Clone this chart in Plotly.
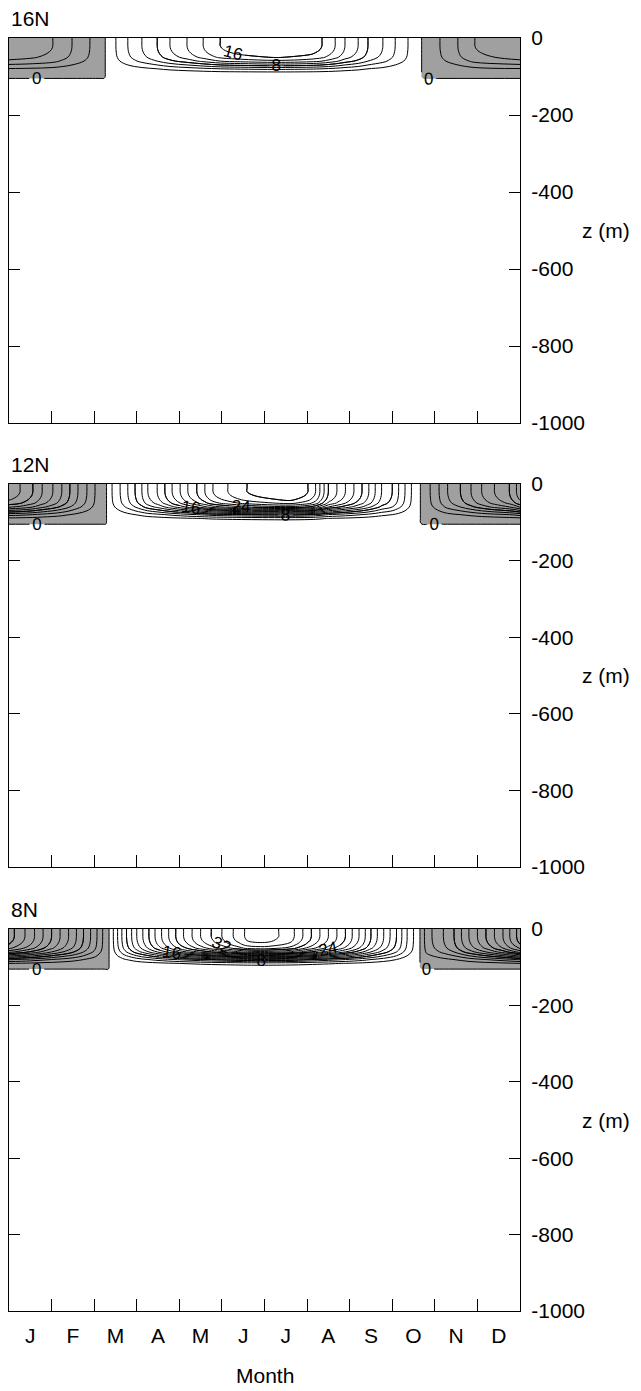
import plotly.graph_objects as go
import numpy as np

# the page adds an 8 px body margin, so the figure is laid out 8 px smaller
OFF = 8
W, H = 641 - OFF, 1391 - OFF

panel_titles = ["16N", "12N", "8N"]
month_labels = ["J", "F", "M", "A", "M", "J", "J", "A", "S", "O", "N", "D"]
month_centers = [0.5 + i for i in range(12)]
month_bounds = [1, 2, 3, 4, 5, 6, 7, 8, 9, 10, 11]
depth_ticks = [0, -200, -400, -600, -800, -1000]
depth_tick_text = ["0", "-200", "-400", "-600", "-800", "-1000"]

# vertical structure of the field (depth in m, relative amplitude)
depth_m = [0, -10, -20, -30, -40, -50, -60, -70, -80, -90, -100, -105, -110, -1000]
profile = [1, 1, 1, 0.99, 0.96, 0.9, 0.75, 0.5, 0.25, 0.08, 0.02, 0, 0, 0]

# surface amplitude vs time (months) for each latitude
t_16n = [0, 0.49, 1.03, 1.48, 1.90, 2.14, 2.23, 2.26, 2.36, 2.51, 2.79, 3.12, 3.48, 3.78,
         4.18, 4.56, 4.96, 5.43, 6.29, 7.07, 7.35, 7.66, 7.89, 8.20, 8.43, 8.78, 9.07,
         9.37, 9.60, 9.69, 9.72, 10.12, 10.54, 10.94, 12]
a_16n = [-7.5, -7, -6, -4, -2, -1, -0.5, 0, 0, 2, 4, 6, 8, 10,
         12, 14, 16, 17, 18, 17, 16, 14, 12, 10, 8, 6, 4,
         2, 0.3, 0, -0.5, -2, -4, -6, -7.5]

t_12n = [0, 0.26, 0.56, 0.78, 1.03, 1.24, 1.43, 1.62, 1.83, 2.02, 2.20, 2.27, 2.29,
         2.38, 2.42, 2.61, 2.79, 2.96, 3.12, 3.26, 3.48, 3.66, 3.83, 4.02, 4.20, 4.41,
         4.60, 4.79, 5.14, 5.59, 6.60, 7.02, 7.20, 7.35, 7.50, 7.70, 7.90, 8.10, 8.29,
         8.45, 8.60, 8.75, 9.00, 9.15, 9.30, 9.45, 9.58, 9.66, 9.70, 9.89, 10.10, 10.30,
         10.60, 10.85, 11.10, 11.40, 11.75, 12]
a_12n = [-19, -18, -16, -14, -12, -10, -8, -6, -4, -2, -1, -0.5, 0,
         0, 2, 4, 6, 8, 10, 12, 14, 16, 18, 20, 22, 24,
         26, 28, 30, 32, 34, 32, 30, 27, 24, 22, 20, 18, 16,
         14, 12, 10, 8, 6, 4, 2, 0.5, 0, -0.5, -2, -4, -6,
         -8, -10, -12, -14, -16, -19]

t_8n = [0, 0.5, 1.0, 1.5, 2.0, 2.2, 2.33, 2.35,
        2.40, 2.45, 2.7, 3.0, 3.5, 4.0, 4.5, 5.0, 5.4, 5.6, 6.0, 6.2, 6.6, 7.0, 7.5,
        7.9, 8.3, 8.5, 8.8, 9.1, 9.35, 9.5, 9.62, 9.65, 9.69, 9.8, 10.2, 10.45, 10.8,
        11.2, 11.6, 12]
a_8n = [-25, -21, -16, -11, -5, -2, -0.5, 0,
        0, 2, 7, 12, 19, 25, 30, 34, 37, 38.5, 39, 38.5, 37, 33, 28,
        24, 19, 16, 12, 8, 4, 2, 0.3, 0, -0.5, -3, -6, -8, -12,
        -16, -20, -25]

panels = [(t_16n, a_16n), (t_12n, a_12n), (t_8n, a_8n)]

# pixel geometry (in the 641x1391 window) of the three panels (top, bottom)
panel_px = [(38, 423), (484, 867), (929, 1311)]
x_left_px, x_right_px = 9, 520


def px_x(x):
    return (x - OFF) / W


def px_y(y):
    return 1 - (y - OFF) / H


FONT = "Liberation Sans, Arial, Helvetica, sans-serif"
LABEL_FONT = dict(family=FONT, size=17, color="black")
fig = go.Figure()


def contour(t, z, xa, ya, **kw):
    base = dict(x=t, y=depth_m, z=z, xaxis=xa, yaxis=ya,
                showscale=False, hoverinfo="skip", showlegend=False)
    base.update(kw)
    return go.Contour(**base)


for i, (t, a) in enumerate(panels):
    n = i + 1
    xa = "x" if n == 1 else f"x{n}"
    ya = "y" if n == 1 else f"y{n}"
    field = np.outer(np.array(profile), np.array(a))
    neg_field = -field
    # shaded negative region
    fig.add_trace(contour(t, neg_field, xa, ya,
        contours=dict(type="constraint", operation="<", value=0),
        fillcolor="#a0a0a0", line=dict(width=0, color="black")))
    # negative contour lines
    fig.add_trace(contour(t, field, xa, ya, autocontour=False,
        contours=dict(start=-26, end=-2, size=2, coloring="none", showlabels=False),
        line=dict(color="black", width=1)))
    # positive contour lines
    fig.add_trace(contour(t, field, xa, ya, autocontour=False,
        contours=dict(start=2, end=40, size=2, coloring="none", showlabels=False),
        line=dict(color="black", width=1)))
    # labelled negative lines
    fig.add_trace(contour(t, field, xa, ya, autocontour=False,
        contours=dict(start=-24, end=-8, size=8, coloring="none", showlabels=True,
                      labelfont=LABEL_FONT),
        line=dict(color="black", width=1)))
    # labelled positive lines
    fig.add_trace(contour(t, field, xa, ya, autocontour=False,
        contours=dict(start=8, end=40, size=8, coloring="none", showlabels=True,
                      labelfont=LABEL_FONT),
        line=dict(color="black", width=1)))
    # zero line around the negative regions
    fig.add_trace(contour(t, neg_field, xa, ya, autocontour=False,
        contours=dict(start=0, end=0.5, size=1, coloring="none", showlabels=True,
                      labelfont=LABEL_FONT),
        line=dict(color="black", width=1)))

layout = dict(
    width=W, height=H,
    margin=dict(l=0, r=0, t=0, b=0, autoexpand=False),
    paper_bgcolor="white", plot_bgcolor="white",
    font=dict(family=FONT, size=20, color="black"),
    showlegend=False,
)

annotations = []
for i, (top, bot) in enumerate(panel_px):
    n = i + 1
    xk = "xaxis" if n == 1 else f"xaxis{n}"
    yk = "yaxis" if n == 1 else f"yaxis{n}"
    ya = "y" if n == 1 else f"y{n}"
    last = (n == 3)
    layout[xk] = dict(
        domain=[px_x(x_left_px), px_x(x_right_px)],
        anchor=ya, range=[0, 12], automargin=False,
        showgrid=False, zeroline=False,
        showline=True, linecolor="black", linewidth=1.2, mirror=True,
        tickmode="array", tickvals=month_centers,
        ticktext=month_labels if last else [""] * 12,
        ticks="", showticklabels=last,
        tickfont=dict(family=FONT, size=21, color="black"),
        ticklabelstandoff=6,
        minor=dict(tickmode="array", tickvals=month_bounds, ticks="inside",
                   ticklen=12, tickwidth=1, tickcolor="black", showgrid=False),
        fixedrange=True,
    )
    layout[yk] = dict(
        domain=[px_y(bot), px_y(top)],
        anchor="x" if n == 1 else f"x{n}", automargin=False,
        side="right", range=[-1000, 0],
        showgrid=False, zeroline=False,
        showline=True, linecolor="black", linewidth=1.2, mirror="ticks",
        tickmode="array", tickvals=depth_ticks, ticktext=depth_tick_text,
        ticks="inside", ticklen=11, tickwidth=1, tickcolor="black",
        tickfont=dict(family=FONT, size=21, color="black"),
        ticklabelstandoff=6,
        fixedrange=True,
    )
    annotations.append(dict(
        text=panel_titles[i], xref="paper", yref="paper",
        x=px_x(9), y=px_y(top - 20), xanchor="left", yanchor="middle",
        showarrow=False, font=dict(family=FONT, size=21, color="black")))
    annotations.append(dict(
        text="z (m)", xref="paper", yref="paper",
        x=px_x(606), y=px_y((top + bot) / 2), xanchor="center", yanchor="middle",
        showarrow=False, font=dict(family=FONT, size=21, color="black")))

annotations.append(dict(
    text="Month", xref="paper", yref="paper",
    x=px_x((x_left_px + x_right_px) / 2), y=px_y(1375),
    xanchor="center", yanchor="middle",
    showarrow=False, font=dict(family=FONT, size=21, color="black")))

layout["annotations"] = annotations
fig.update_layout(**layout)
fig.write_html("out.html")
